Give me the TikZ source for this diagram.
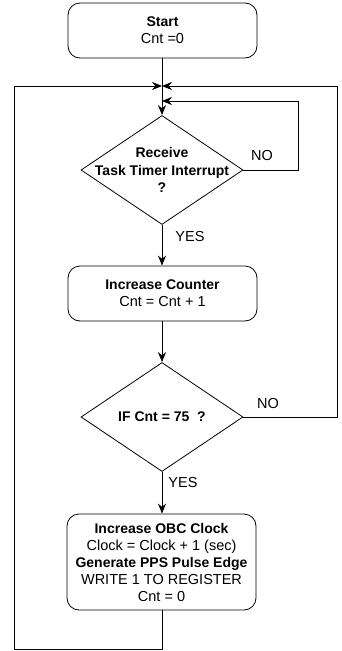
\documentclass[tikz,border=0pt]{standalone}
\usepackage{fontspec}
\setmainfont{Liberation Sans}
\usetikzlibrary{shapes.geometric,arrows.meta}
\newcommand\bhead[1]{{\fontsize{14}{17}\selectfont\bfseries #1}}

\begin{document}
\begin{tikzpicture}[x=1pt,y=-1pt,
  line width=0.8pt,
  proc/.style={draw, rounded corners=12pt, minimum width=189pt, inner sep=0pt,
               align=center, font=\fontsize{14.5}{17}\selectfont},
  decision/.style={draw, diamond, minimum width=162pt, minimum height=109pt, inner sep=0pt},
  dtext/.style={align=center, inner sep=0pt, font=\fontsize{14.5}{17.5}\selectfont},
  lbl/.style={inner sep=0pt, font=\fontsize{14.5}{16}\selectfont},
  flow/.style={-{Stealth[length=10pt,width=8pt]}},
]
\useasboundingbox (0,0) rectangle (341,651);

% process boxes
\node[proc, minimum height=55pt] (start) at (162.5,30.5) {\bhead{Start}\\Cnt =0};
\node[proc, minimum height=55pt] (count) at (162.5,293.5) {\bhead{Increase Counter}\\Cnt = Cnt + 1};
\node[proc, minimum height=96pt] (clk) at (161.5,562)
  {\bhead{Increase OBC Clock}\\Clock = Clock + 1 (sec)\\\bhead{Generate PPS Pulse Edge}\\WRITE 1 TO REGISTER\\Cnt = 0};

% decisions
\node[decision] (d1) at (162,170) {};
\node[dtext] (d1t) at (d1.center) {\bhead{Receive}\\\bhead{Task Timer Interrupt}\\\bhead{?}};
\node[decision] (d2) at (162,417) {};
\node[dtext] (d2t) at (d2.center) {\bhead{IF Cnt = 75\ \ ?}};

% branch labels
\node[lbl] (no1) at (262,156) {NO};
\node[lbl] (yes1) at (190,237) {YES};
\node[lbl] (no2) at (268,404) {NO};
\node[lbl] (yes2) at (183,483) {YES};

% junctions on the main line
\coordinate (outJ) at (162,86);
\coordinate (inJ) at (162,101);
\coordinate (botL) at (14,649.5);

% main flow
\draw[flow] (start.south -| d1.north) -- (d1.north);
\draw[flow] (d1.south) -- (d1.south |- count.north);
\draw[flow] (count.south -| d2.north) -- (d2.north);
\draw[flow] (d2.south) -- (d2.south |- clk.north);

% loops back to the top
\draw[flow] (d1.east) -- ++(55,0) |- (inJ);
\draw[flow] (d2.east) -- ++(94,0) |- (outJ);
\draw[flow] (clk.south -| d2.south) |- (botL) |- (outJ);
\end{tikzpicture}
\end{document}
